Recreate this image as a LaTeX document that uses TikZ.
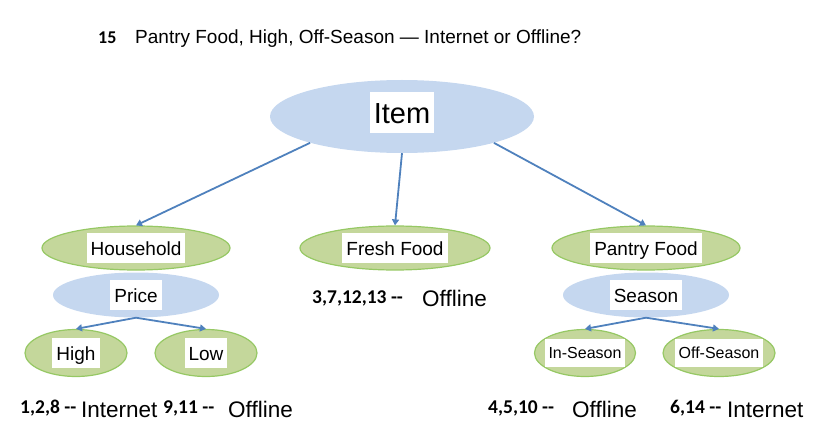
\documentclass[tikz,border=0pt]{standalone}
\usepackage{fontspec}
\setmainfont{Liberation Sans}
\newfontfamily\carl{Carlito}
\usetikzlibrary{shapes.geometric,arrows.meta}
\definecolor{bfill}{RGB}{197,215,239}
\definecolor{gfill}{RGB}{196,215,155}
\definecolor{gline}{RGB}{150,200,100}
\definecolor{arr}{RGB}{79,129,189}
\tikzset{
  fs/.style={font=\fontsize{#1}{#1}\selectfont},
  bluell/.style={ellipse,fill=bfill,inner sep=0pt},
  greenell/.style={ellipse,fill=gfill,draw=gline,line width=1.2pt,inner sep=0pt},
  wbox/.style={fill=white,inner xsep=4pt,inner ysep=5pt,text=black,
    font=\fontsize{#1}{#1}\selectfont,text height=0.92*#1 pt,text depth=0.18*#1 pt},
  conn/.style={draw=arr,line width=1.8pt,-{Triangle[length=6pt,width=7pt]}},
  num/.style={anchor=base west,inner sep=0pt,font=\carl\bfseries\fontsize{19.5}{19.5}\selectfont},
  word/.style={anchor=base west,inner sep=0pt,font=\fontsize{22.5}{22.5}\selectfont},
}
\begin{document}
\begin{tikzpicture}[x=1pt,y=-1pt]
\useasboundingbox (0,0) rectangle (817,441);
% title
\node[anchor=base west,inner sep=0pt,font=\carl\bfseries\fontsize{18}{18}\selectfont] (tnum) at (98,44) {15};
\node[anchor=base west,inner sep=0pt,fs=19] (ttext) at (135,44) {Pantry Food, High, Off-Season — Internet or Offline?};
% nodes
\node[bluell,minimum width=264pt,minimum height=73pt,label={[wbox=29,inner ysep=5pt,yshift=4pt]center:Item}] (item) at (402,116.5) {};
\node[greenell,minimum width=188pt,minimum height=44pt,label={[wbox=19]center:Household}] (house) at (136,248) {};
\node[greenell,minimum width=190pt,minimum height=44pt,label={[wbox=19]center:Fresh Food}] (fresh) at (395,248) {};
\node[greenell,minimum width=188pt,minimum height=44pt,label={[wbox=19]center:Pantry Food}] (pantry) at (646,248) {};
\node[bluell,minimum width=166pt,minimum height=45pt,label={[wbox=19]center:Price}] (price) at (136,295) {};
\node[bluell,minimum width=166pt,minimum height=45pt,label={[wbox=19]center:Season}] (season) at (646,295) {};
\node[greenell,minimum width=102pt,minimum height=47pt,label={[wbox=19]center:High}] (high) at (76,353) {};
\node[greenell,minimum width=102pt,minimum height=47pt,label={[wbox=19]center:Low}] (low) at (206,353) {};
\node[greenell,minimum width=101pt,minimum height=47pt,label={[wbox=16]center:In-Season}] (insea) at (585,353) {};
\node[greenell,minimum width=112pt,minimum height=47pt,label={[wbox=16]center:Off-Season}] (offsea) at (719,353) {};
% connectors
\draw[conn] (item.196) -- (house.north);
\draw[conn] (item.south) -- (fresh.north);
\draw[conn] (item.344) -- (pantry.north);
\draw[conn] (price.south) -- (high.north);
\draw[conn] (price.south) -- (low.north);
\draw[conn] (season.south) -- (insea.north);
\draw[conn] (season.south) -- (offsea.north);
% results
\node[num] (r1n) at (312,303) {3,7,12,13 -{}-};
\node[word] (r1w) at (422,306) {Offline};
\node[num] (r2n) at (20,413) {1,2,8 -{}-};
\node[word] (r2w) at (81,417) {Internet};
\node[num] (r3n) at (163,413) {9,11 -{}-};
\node[word] (r3w) at (228,417) {Offline};
\node[num] (r4n) at (488,413) {4,5,10 -{}-};
\node[word] (r4w) at (572,417) {Offline};
\node[num] (r5n) at (670,413) {6,14 -{}-};
\node[word] (r5w) at (727,417) {Internet};
\end{tikzpicture}
\end{document}
